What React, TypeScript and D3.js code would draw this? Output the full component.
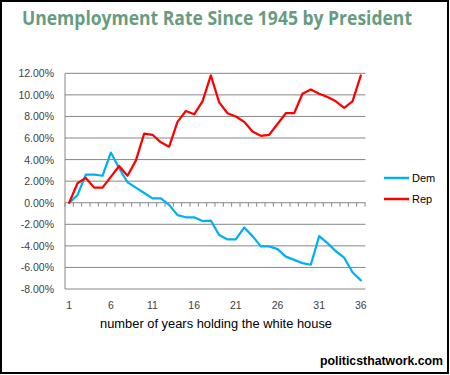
import React from "react";
import * as d3 from "d3";

const years: number[] = Array.from({ length: 36 }, (_, i) => i + 1);
const dem: number[] = [0, 0.7, 2.6, 2.6, 2.5, 4.65, 3.2, 1.9, 1.4, 0.9, 0.4, 0.4, -0.2, -1.15, -1.35, -1.35, -1.7, -1.65, -3.0, -3.4, -3.4, -2.3, -3.1, -4.05, -4.05, -4.3, -5.0, -5.3, -5.6, -5.75, -3.1, -3.75, -4.5, -5.1, -6.45, -7.2];
const rep: number[] = [0, 1.8, 2.3, 1.4, 1.4, 2.4, 3.4, 2.5, 3.9, 6.4, 6.3, 5.6, 5.2, 7.5, 8.5, 8.2, 9.4, 11.8, 9.3, 8.3, 8.0, 7.5, 6.6, 6.2, 6.3, 7.3, 8.3, 8.3, 10.1, 10.5, 10.1, 9.8, 9.4, 8.8, 9.4, 11.8];
const yTicks: number[] = [-8, -6, -4, -2, 0, 2, 4, 6, 8, 10, 12];
const xTickLabels: number[] = [1, 6, 11, 16, 21, 26, 31, 36];

const series = [
  { name: "Dem", values: dem, color: "#00B0F0" },
  { name: "Rep", values: rep, color: "#FF0000" },
];

export default function App() {
  const x = d3.scaleBand<number>().domain(years).range([65, 365]).paddingInner(0).paddingOuter(0);
  const y = d3.scaleLinear().domain([-8, 12]).range([289, 73.3]);
  const cx = (d: number) => (x(d) as number) + x.bandwidth() / 2;
  const line = d3
    .line<number>()
    .x((_, i) => cx(years[i]))
    .y((v) => y(v));
  const font = "'Liberation Sans', Arial, sans-serif";
  const boundaries = d3.range(0, years.length + 1).map((k) => 65 + k * x.bandwidth());

  return (
    <svg
      width={450}
      height={375}
      style={{ position: "fixed", left: 0, top: 0, background: "#fff" }}
      fontFamily={font}
    >
      <rect x={0} y={0} width={450} height={375} fill="#fff" />
      <rect x={1} y={1} width={447} height={372} fill="none" stroke="#000" strokeWidth={2} />
      <text
        x={22}
        y={25}
        fontSize={19}
        fontWeight="bold"
        fill="#679C7E"
        textLength={390}
        lengthAdjust="spacingAndGlyphs"
        fontFamily="'Open Sans', sans-serif"
      >
        Unemployment Rate Since 1945 by President
      </text>

      {yTicks.map((t) => (
        <g key={t}>
          <line x1={65} x2={365.5} y1={y(t)} y2={y(t)} stroke="#868686" strokeWidth={1} />
          <text x={54} y={y(t) + 4} fontSize={10.5} textAnchor="end" fill="#404040">
            {t.toFixed(2) + "%"}
          </text>
        </g>
      ))}
      <line x1={65} x2={65} y1={y(12)} y2={y(-8)} stroke="#868686" strokeWidth={1} />
      {boundaries.map((b, i) => (
        <line key={i} x1={b} x2={b} y1={y(0)} y2={y(0) + 4} stroke="#868686" strokeWidth={1} />
      ))}
      {xTickLabels.map((t) => (
        <text key={t} x={cx(t)} y={309} fontSize={10.5} textAnchor="middle" fill="#404040">
          {t}
        </text>
      ))}
      <text x={216} y={328} fontSize={12.5} textAnchor="middle" fill="#000" textLength={232} lengthAdjust="spacingAndGlyphs">
        number of years holding the white house
      </text>

      {series.map((s) => (
        <path
          key={s.name}
          d={line(s.values) || ""}
          fill="none"
          stroke={s.color}
          strokeWidth={2.25}
          strokeLinejoin="round"
          strokeLinecap="round"
        />
      ))}

      {series.map((s, i) => (
        <g key={s.name} transform={`translate(384, ${178 + i * 21})`}>
          <line x1={0} x2={25} y1={0} y2={0} stroke={s.color} strokeWidth={2.5} />
          <text x={28} y={4} fontSize={11} fill="#000">
            {s.name}
          </text>
        </g>
      ))}

      <text x={443} y={365} fontSize={13} fontWeight="bold" textAnchor="end" fill="#000" textLength={123} lengthAdjust="spacingAndGlyphs">
        politicsthatwork.com
      </text>
    </svg>
  );
}
